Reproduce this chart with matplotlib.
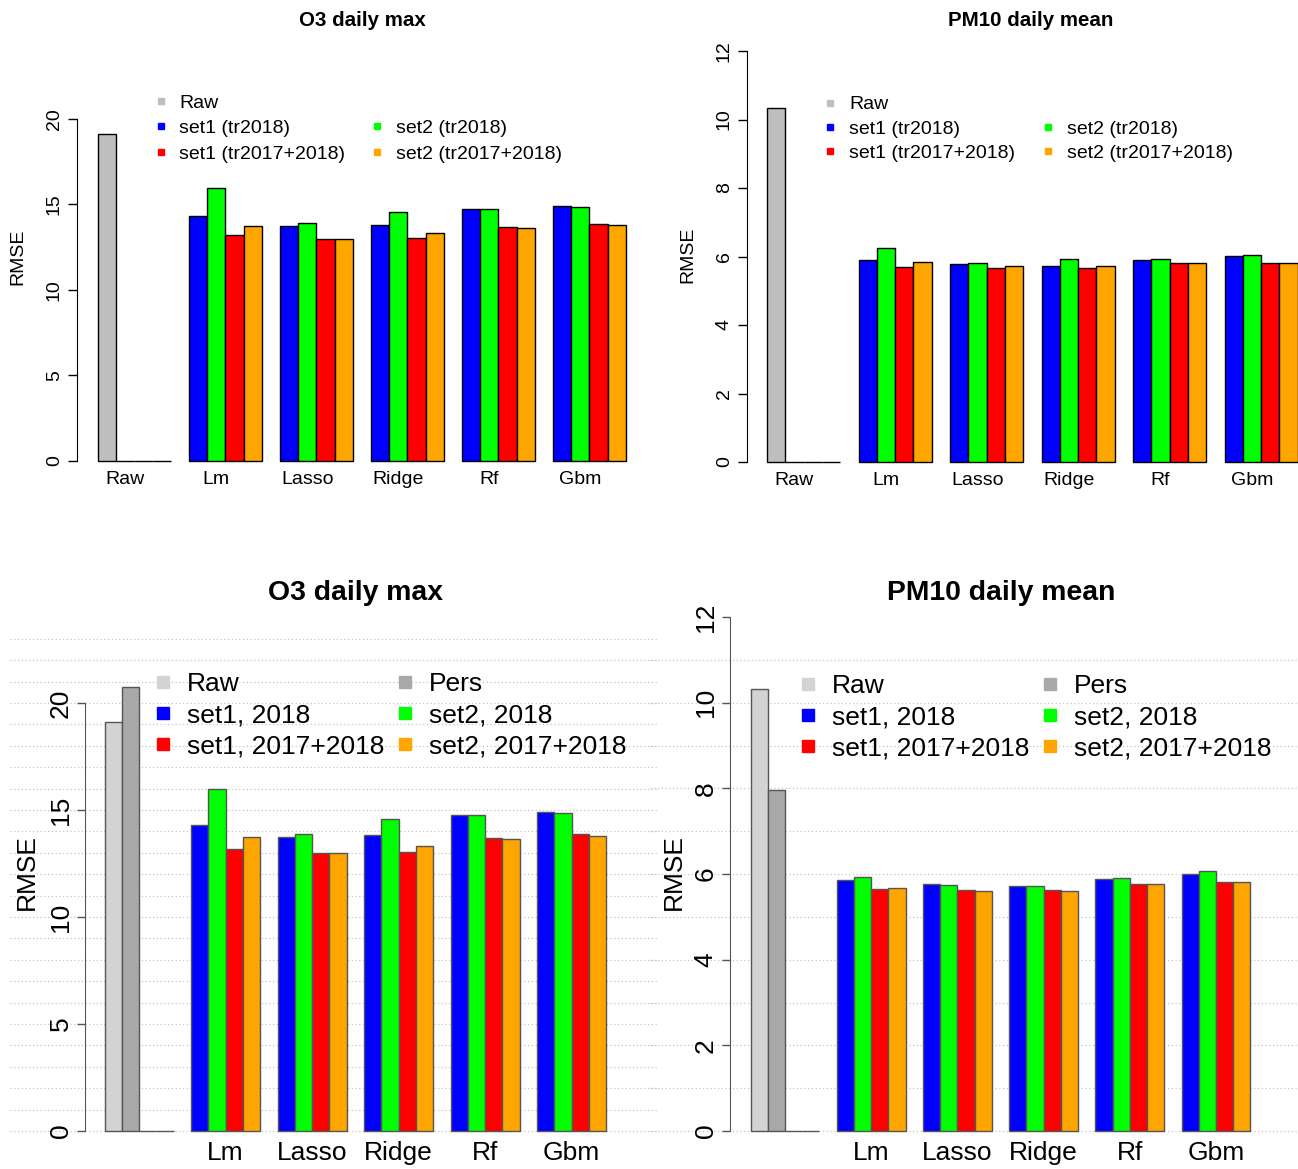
import matplotlib.pyplot as plt
from matplotlib.lines import Line2D

plt.rcParams['font.family'] = ['Liberation Sans', 'DejaVu Sans']

methods = ['Lm', 'Lasso', 'Ridge', 'Rf', 'Gbm']
series_colors = ['#0000FF', '#00FF00', '#FF0000', '#FFA500']

# O3 daily max (identical numbers in both versions of the figure)
o3_raw = 19.12
o3_pers = 20.73
o3_set1_2018 = [14.30, 13.73, 13.82, 14.75, 14.89]
o3_set2_2018 = [15.99, 13.90, 14.58, 14.75, 14.85]
o3_set1_1718 = [13.20, 13.00, 13.02, 13.71, 13.87]
o3_set2_1718 = [13.72, 13.00, 13.34, 13.65, 13.79]

# PM10 daily mean, upper figure
pm_a_raw = 10.34
pm_a_set1_2018 = [5.89, 5.77, 5.73, 5.89, 6.02]
pm_a_set2_2018 = [6.24, 5.82, 5.92, 5.92, 6.05]
pm_a_set1_1718 = [5.70, 5.67, 5.67, 5.80, 5.82]
pm_a_set2_1718 = [5.85, 5.73, 5.73, 5.80, 5.82]

# PM10 daily mean, lower figure
pm_b_raw = 10.32
pm_b_pers = 7.97
pm_b_set1_2018 = [5.87, 5.76, 5.71, 5.89, 6.01]
pm_b_set2_2018 = [5.93, 5.74, 5.72, 5.90, 6.07]
pm_b_set1_1718 = [5.65, 5.63, 5.63, 5.76, 5.81]
pm_b_set2_1718 = [5.67, 5.61, 5.60, 5.76, 5.81]

top_labels = ['Raw', 'set1 (tr2018)', 'set1 (tr2017+2018)',
              '', 'set2 (tr2018)', 'set2 (tr2017+2018)']
bottom_labels = ['Raw', 'set1, 2018', 'set1, 2017+2018',
                 'Pers', 'set2, 2018', 'set2, 2017+2018']

W, H = 1298, 1169
fig = plt.figure(figsize=(W / 100, H / 100), dpi=100)


def panel(p, title, raw_vals, raw_cols, series, xlabels, legend_labels, legend_cols):
    axis_x, bar0, unit, y0 = p['axis_x'], p['bar0'], p['unit'], p['y0']
    right, top = p['right'], p['top']
    ref_val, ref_y = p['ref']
    scale = (y0 - ref_y) / ref_val
    fs, edge = p['fs'], p['edge']
    ax = fig.add_axes([axis_x / W, 1 - y0 / H, (right - axis_x) / W, (y0 - top) / H])
    ax.set_xlim((axis_x - bar0) / unit, (right - bar0) / unit)
    ax.set_ylim(0, (y0 - top) / scale)
    ax.patch.set_alpha(0)

    n = len(series)
    first = list(raw_vals) + [0] * (n - len(raw_vals))
    first_cols = list(raw_cols) + ['white'] * (n - len(raw_cols))
    ax.bar(range(n), first, width=1, align='edge', color=first_cols,
           edgecolor=edge, linewidth=1, zorder=2, clip_on=False)
    for k, (vals, c) in enumerate(zip(series, series_colors)):
        xs = [(g + 1) * (n + 1) + k for g in range(len(vals))]
        ax.bar(xs, vals, width=1, align='edge', color=c,
               edgecolor=edge, linewidth=1, zorder=2, clip_on=False)

    for s in ['top', 'right', 'bottom']:
        ax.spines[s].set_visible(False)
    ax.spines['left'].set_bounds(0, p['yticks'][-1])
    ax.spines['left'].set_color(edge)

    ax.set_yticks(p['yticks'])
    ax.set_yticklabels([str(t) for t in p['yticks']], rotation=90,
                       va='center', fontsize=fs)
    ax.tick_params(axis='y', length=p['ticklen'], width=1, color=edge, pad=p['ypad'])
    ax.set_xticks([g * (n + 1) + p['xoff'] for g in range(len(xlabels))])
    ax.set_xticklabels(xlabels, fontsize=fs)
    ax.tick_params(axis='x', length=0, pad=p['xpad'])

    ax.set_ylabel('RMSE', fontsize=fs, va='center')
    lx, ly = p['ylab']
    ax.yaxis.set_label_coords((lx - axis_x) / (right - axis_x), (y0 - ly) / (y0 - top))

    tx, ty = p['title']
    ax.set_title(title, x=(tx - axis_x) / (right - axis_x), y=(y0 - ty) / (y0 - top),
                 va='center', fontweight='bold', fontsize=p['tfs'], pad=0)

    if 'grid' in p:
        gmax, gx0, gx1 = p['grid']
        for v in range(gmax + 1):
            ax.axhline(v, xmin=(gx0 - axis_x) / (right - axis_x),
                       xmax=(gx1 - axis_x) / (right - axis_x), clip_on=False,
                       color='#C4C4C4', linestyle=(0, (1, 2)), linewidth=0.9, zorder=0)

    handles = []
    for lab, c in zip(legend_labels, legend_cols):
        if lab:
            handles.append(Line2D([], [], linestyle='', marker='s', markersize=p['ms'],
                                  color=c, markeredgecolor=c))
        else:
            handles.append(Line2D([], [], linestyle='', marker=''))
    lg = p['legend']
    ax.legend(handles, legend_labels, ncol=2, loc='upper left',
              bbox_to_anchor=(lg['x'] / W, 1 - lg['y'] / H), bbox_transform=fig.transFigure,
              frameon=False, fontsize=fs, handlelength=0.8, handletextpad=lg['htp'],
              columnspacing=lg['cs'], labelspacing=lg['ls'], borderpad=0, borderaxespad=0)
    return ax


top_left = dict(axis_x=77, bar0=98, unit=18.2, y0=461, ref=(20, 119), right=640, top=40,
                yticks=[0, 5, 10, 15, 20], fs=14, tfs=14.8, edge='black', ticklen=6.5,
                ypad=3.6, xpad=7, xoff=1.5, ylab=(18, 257), title=(362, 21), ms=5,
                legend=dict(x=152.9, y=94.3, htp=0.55, cs=1.25, ls=0.40))
top_right = dict(axis_x=747, bar0=767, unit=18.3, y0=462, ref=(12, 51), right=1298, top=40,
                 yticks=[0, 2, 4, 6, 8, 10, 12], fs=14, tfs=14.8, edge='black', ticklen=6.5,
                 ypad=3.6, xpad=7, xoff=1.5, ylab=(688, 255), title=(1031, 21), ms=5,
                 legend=dict(x=822.2, y=95.8, htp=0.58, cs=1.3, ls=0.34))
bottom_left = dict(axis_x=85, bar0=104.5, unit=17.3, y0=1131, ref=(20, 703), right=657, top=615,
                   yticks=[0, 5, 10, 15, 20], fs=19, tfs=20.4, edge='#555555', ticklen=5.8,
                   ypad=3, xpad=7.3, xoff=2, ylab=(27, 872), title=(355, 593), ms=8.6,
                   grid=(23, 10, 657),
                   legend=dict(x=152.1, y=672.2, htp=0.51, cs=0.39, ls=0.27))
bottom_right = dict(axis_x=730, bar0=750.5, unit=17.24, y0=1131, ref=(12, 617), right=1298, top=600,
                    yticks=[0, 2, 4, 6, 8, 10, 12], fs=19, tfs=20.4, edge='#555555', ticklen=5.8,
                    ypad=3, xpad=7.3, xoff=2, ylab=(674, 872), title=(1001, 593), ms=8.6,
                    grid=(11, 650, 1298),
                    legend=dict(x=797.4, y=674, htp=0.51, cs=0.38, ls=0.27))

top_leg_cols = ['#BEBEBE', '#0000FF', '#FF0000', 'white', '#00FF00', '#FFA500']
bottom_leg_cols = ['#D3D3D3', '#0000FF', '#FF0000', '#A9A9A9', '#00FF00', '#FFA500']

panel(top_left, 'O3 daily max', [o3_raw], ['#BEBEBE'],
      [o3_set1_2018, o3_set2_2018, o3_set1_1718, o3_set2_1718],
      ['Raw'] + methods, top_labels, top_leg_cols)
panel(top_right, 'PM10 daily mean', [pm_a_raw], ['#BEBEBE'],
      [pm_a_set1_2018, pm_a_set2_2018, pm_a_set1_1718, pm_a_set2_1718],
      ['Raw'] + methods, top_labels, top_leg_cols)
panel(bottom_left, 'O3 daily max', [o3_raw, o3_pers], ['#D3D3D3', '#A9A9A9'],
      [o3_set1_2018, o3_set2_2018, o3_set1_1718, o3_set2_1718],
      [''] + methods, bottom_labels, bottom_leg_cols)
panel(bottom_right, 'PM10 daily mean', [pm_b_raw, pm_b_pers], ['#D3D3D3', '#A9A9A9'],
      [pm_b_set1_2018, pm_b_set2_2018, pm_b_set1_1718, pm_b_set2_1718],
      [''] + methods, bottom_labels, bottom_leg_cols)

fig.savefig('out.png', dpi=100)
